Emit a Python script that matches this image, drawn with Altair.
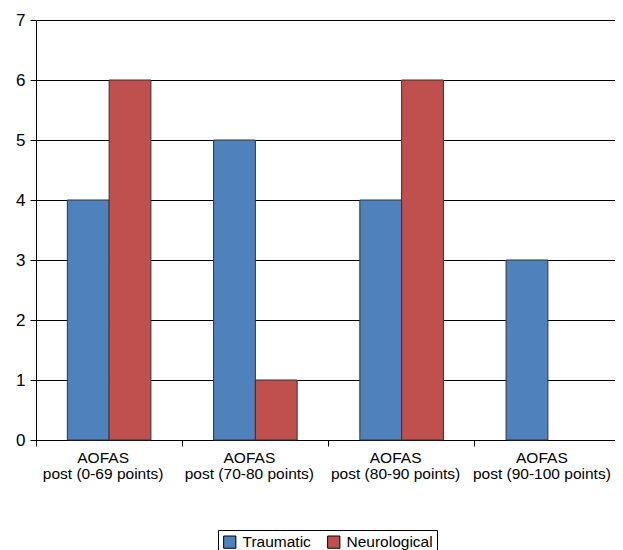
import altair as alt
import pandas as pd
import jinja2

categories = ["AOFAS\npost (0-69 points)", "AOFAS\npost (70-80 points)",
              "AOFAS\npost (80-90 points)", "AOFAS\npost (90-100 points)"]
series = ["Traumatic", "Neurological"]
traumatic = [4, 5, 4, 3]
neurological = [6, 1, 6, 0]
colors = ["#4F81BD", "#C0504D"]

rows = []
for c, t, n in zip(categories, traumatic, neurological):
    rows.append({"cat": c, "series": "Traumatic", "value": t})
    rows.append({"cat": c, "series": "Neurological", "value": n})
df = pd.DataFrame(rows)

FONT = "Liberation Sans"

chart = alt.Chart(df).mark_bar(stroke="#333333", strokeWidth=1).encode(
    x=alt.X("cat:N", sort=categories, title=None,
            scale=alt.Scale(paddingInner=0, paddingOuter=0),
            axis=alt.Axis(labelAngle=0, labelExpr="split(datum.label, '\\n')",
                          labelFontSize=15.5, labelColor="#000", labelFont=FONT,
                          labelPadding=4, labelLineHeight=16, labelOffset=-6,
                          bandPosition=0, tickSize=6, tickColor="#000",
                          domainColor="#000", grid=False)),
    xOffset=alt.XOffset("series:N", sort=series,
                        scale=alt.Scale(paddingInner=0, paddingOuter=0.75)),
    y=alt.Y("value:Q", title=None,
            scale=alt.Scale(domain=[0, 7], nice=False),
            axis=alt.Axis(values=[0, 1, 2, 3, 4, 5, 6, 7], format="d",
                          labelFontSize=17, labelColor="#000", labelFont=FONT,
                          tickSize=6, tickColor="#000", domainColor="#000",
                          gridColor="#000", gridOpacity=1, labelPadding=5)),
    strokeOpacity=alt.condition("datum.value > 0", alt.value(1), alt.value(0)),
    color=alt.Color("series:N", sort=series,
                    scale=alt.Scale(domain=series, range=colors),
                    legend=alt.Legend(title=None, orient="none",
                                      legendX=182, legendY=510,
                                      direction="horizontal",
                                      symbolType="square", symbolSize=150,
                                      symbolStrokeColor="#000", symbolStrokeWidth=1,
                                      labelFontSize=15.5, labelFont=FONT,
                                      labelColor="#000",
                                      strokeColor="#000", padding=4,
                                      columnPadding=14, labelOffset=5)),
).properties(
    width=585, height=420,
    autosize=alt.AutoSizeParams(type="none"),
    padding={"left": 28, "top": 12, "right": 2, "bottom": 110},
).configure_view(strokeWidth=0).configure(background="white")

PAGE = jinja2.Template("""<!DOCTYPE html>
<html>
<head>
  <style>
    html, body { overflow: hidden; }
    body { margin: 8px 8px 0 8px; }
    #{{ output_div }} { line-height: 0; }
    #{{ output_div }} .vega-embed { display: block !important; }
    #{{ output_div }} svg { display: block; }
  </style>
  <script type="text/javascript" src="{{ base_url }}/vega@{{ vega_version }}"></script>
  {%- if mode == 'vega-lite' %}
  <script type="text/javascript" src="{{ base_url }}/vega-lite@{{ vegalite_version }}"></script>
  {%- endif %}
  <script type="text/javascript" src="{{ base_url }}/vega-embed@{{ vegaembed_version }}"></script>
</head>
<body>
  <div id="{{ output_div }}"></div>
  <script type="text/javascript">
    var spec = {{ spec }};
    var embedOpt = {{ embed_options }};
    vegaEmbed("#{{ output_div }}", spec, embedOpt).catch(console.error);
  </script>
</body>
</html>
""")

chart.save("out.html", embed_options={"renderer": "svg", "actions": False}, template=PAGE)
